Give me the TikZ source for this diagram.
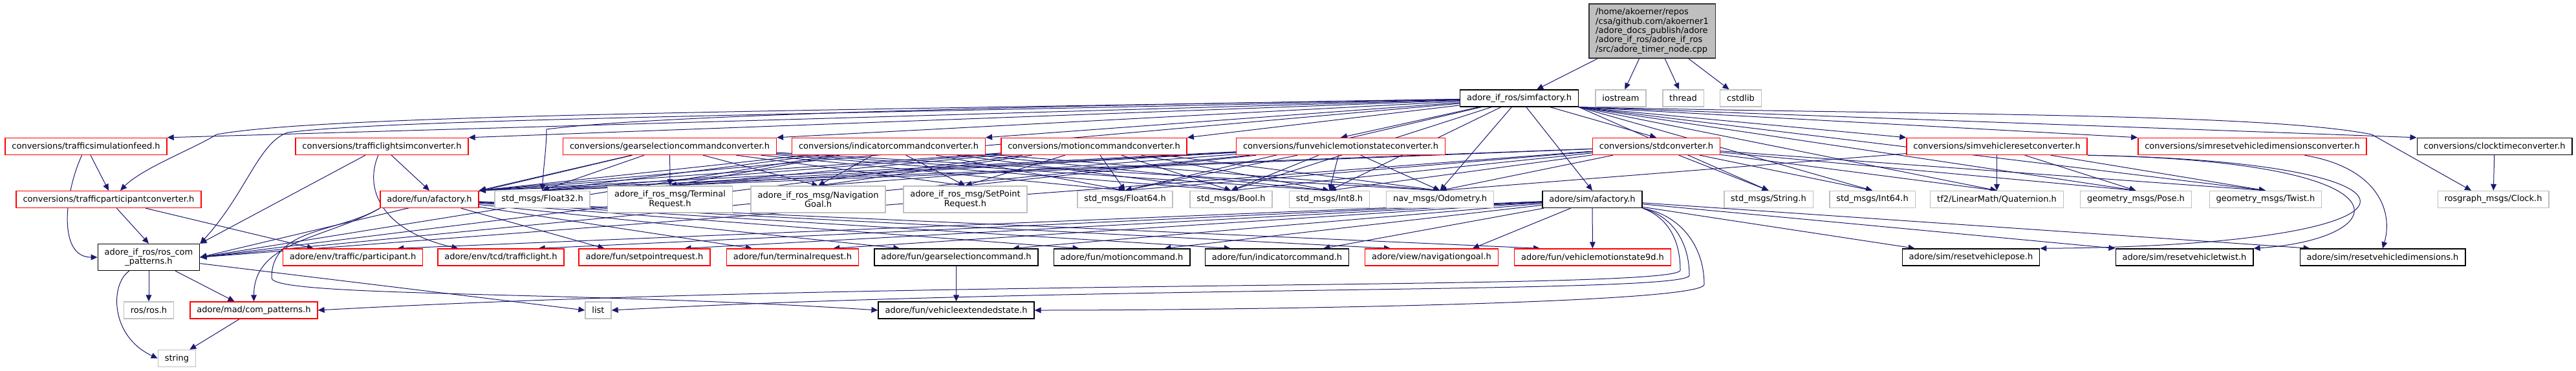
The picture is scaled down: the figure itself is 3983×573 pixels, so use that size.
\documentclass[tikz,border=0pt]{standalone}
\usepackage{fontspec}
\setmainfont{DejaVu Sans}
\usetikzlibrary{arrows.meta, backgrounds}
\definecolor{inclblue}{RGB}{25, 25, 112}
\definecolor{hdrred}{RGB}{255, 0, 0}
\definecolor{sysgray}{RGB}{191, 191, 191}
\definecolor{rootgray}{RGB}{191, 191, 191}
\tikzset{
  file/.style={rectangle, draw=#1, fill=white, line width=0.7pt, inner xsep=5.2pt,
               inner ysep=0pt, minimum height=13pt, align=center,
               font=\fontsize{6.5}{7.2}\selectfont},
  redfile/.style={file=hdrred},
  grayfile/.style={file=sysgray},
  docfile/.style={file=black},
  twoline/.style={minimum height=20.5pt},
  rootfile/.style={file=black!80, fill=rootgray, align=left, minimum height=42pt},
  incl/.style={-{Triangle[length=5pt, width=4.4pt]}, line width=0.5pt, color=inclblue},
}

\begin{document}
\begin{tikzpicture}[x=0.5pt, y=-0.5pt]
  \useasboundingbox (0,0) rectangle (3983,573);

  % top: the cpp file and what it includes directly
  \node[rootfile] (root) at (2554.5,48) {/home/akoerner/repos\\/csa/github.com/akoerner1\\/adore\_docs\_publish/adore\\/adore\_if\_ros/adore\_if\_ros\\/src/adore\_timer\_node.cpp};
  \node[docfile]  (simf) at (2349,152)   {adore\_if\_ros/simfactory.h};
  \node[grayfile] (iost) at (2506,152)   {iostream};
  \node[grayfile] (thrd) at (2602.5,152) {thread};
  \node[grayfile] (cstd) at (2691.5,152) {cstdlib};

  % converters
  \node[redfile] (tsf)   at (133,226.5)    {conversions/trafficsimulationfeed.h};
  \node[redfile] (tlsc)  at (590.5,226.5)  {conversions/trafficlightsimconverter.h};
  \node[redfile] (gscc)  at (1035.5,226.5) {conversions/gearselectioncommandconverter.h};
  \node[redfile] (iccc)  at (1374,226.5)   {conversions/indicatorcommandconverter.h};
  \node[redfile] (mccc)  at (1691.5,226.5) {conversions/motioncommandconverter.h};
  \node[redfile] (fvmsc) at (2073,226.5)   {conversions/funvehiclemotionstateconverter.h};
  \node[redfile] (stdc)  at (2561,226.5)   {conversions/stdconverter.h};
  \node[redfile] (svrc)  at (3087.5,226.5) {conversions/simvehicleresetconverter.h};
  \node[redfile] (srvdc) at (3482.5,226.5) {conversions/simresetvehicledimensionsconverter.h};
  \node[docfile] (cltc)  at (3857,226.5)   {conversions/clocktimeconverter.h};

  % messages and factories
  \node[redfile]           (tpc)   at (168,308.5)    {conversions/trafficparticipantconverter.h};
  \node[redfile]           (funaf) at (664,308.5)    {adore/fun/afactory.h};
  \node[grayfile]          (f32)   at (838.5,308.5)  {std\_msgs/Float32.h};
  \node[grayfile, twoline] (treq)  at (1036,308.5)   {adore\_if\_ros\_msg/Terminal\\Request.h};
  \node[grayfile, twoline] (ngoal) at (1265,308.5)   {adore\_if\_ros\_msg/Navigation\\Goal.h};
  \node[grayfile, twoline] (spreq) at (1492.5,308.5) {adore\_if\_ros\_msg/SetPoint\\Request.h};
  \node[grayfile]          (f64)   at (1739.5,308.5) {std\_msgs/Float64.h};
  \node[grayfile]          (bool)  at (1903.5,308.5) {std\_msgs/Bool.h};
  \node[grayfile]          (int8)  at (2055.5,308.5) {std\_msgs/Int8.h};
  \node[grayfile]          (odom)  at (2226.5,308.5) {nav\_msgs/Odometry.h};
  \node[docfile]           (simaf) at (2462,308.5)   {adore/sim/afactory.h};
  \node[grayfile]          (str)   at (2734.5,308.5) {std\_msgs/String.h};
  \node[grayfile]          (i64)   at (2895,308.5)   {std\_msgs/Int64.h};
  \node[grayfile]          (quat)  at (3087.5,308.5) {tf2/LinearMath/Quaternion.h};
  \node[grayfile]          (pose)  at (3302.5,308.5) {geometry\_msgs/Pose.h};
  \node[grayfile]          (twist) at (3503,308.5)   {geometry\_msgs/Twist.h};
  \node[grayfile]          (clock) at (3855,308.5)   {rosgraph\_msgs/Clock.h};

  % adore types
  \node[docfile, twoline] (rcp)   at (230,398)    {adore\_if\_ros/ros\_com\\\_patterns.h};
  \node[redfile]          (part)  at (545.5,398)  {adore/env/traffic/participant.h};
  \node[redfile]          (tcd)   at (774.5,398)  {adore/env/tcd/trafficlight.h};
  \node[redfile]          (fsp)   at (996.5,398)  {adore/fun/setpointrequest.h};
  \node[redfile]          (fterm) at (1225.5,398) {adore/fun/terminalrequest.h};
  \node[docfile]          (fgear) at (1478.5,398) {adore/fun/gearselectioncommand.h};
  \node[docfile]          (fmot)  at (1734.5,398) {adore/fun/motioncommand.h};
  \node[docfile]          (find)  at (1974.5,398) {adore/fun/indicatorcommand.h};
  \node[redfile]          (vnav)  at (2213.5,398) {adore/view/navigationgoal.h};
  \node[redfile]          (vms9d) at (2462.5,398) {adore/fun/vehiclemotionstate9d.h};
  \node[docfile]          (rvp)   at (3047.5,398) {adore/sim/resetvehiclepose.h};
  \node[docfile]          (rvt)   at (3377.5,398) {adore/sim/resetvehicletwist.h};
  \node[docfile]          (rvd)   at (3684,398)   {adore/sim/resetvehicledimensions.h};

  \node[grayfile] (ros)    at (230,480)    {ros/ros.h};
  \node[redfile]  (mcp)    at (392.5,480)  {adore/mad/com\_patterns.h};
  \node[grayfile] (list)   at (925,480)    {list};
  \node[docfile]  (vext)   at (1478.5,480) {adore/fun/vehicleextendedstate.h};
  \node[grayfile] (string) at (273.5,554.5) {string};

  % bends for the routed edges
  \coordinate (tpcbend) at (335,208);
  \coordinate (rcpbend) at (445,205);
  \coordinate (f32bend) at (845,200);
  \coordinate (clkbend) at (3667,208);
  \coordinate (funbend) at (420,430);
  \coordinate (loopa)   at (2598,418);
  \coordinate (loopb)   at (2612,426);
  \coordinate (loopc)   at (2635,440);

  \begin{scope}[on background layer]
    \foreach \t in {simf,iost,thrd,cstd} \draw[incl] (root) -- (\t);
    % simfactory.h
    \foreach \t in {tsf,tlsc,gscc,iccc,mccc} \draw[incl] (simf) -- (\t.north east);
    \foreach \t in {fvmsc,stdc} \draw[incl] (simf) -- (\t.north);
    \foreach \t in {svrc,srvdc,cltc} \draw[incl] (simf.south east) -- (\t.north west);
    \foreach \t in {simaf,f64,bool,int8,odom} \draw[incl] (simf) -- (\t.north);
    \foreach \t in {str,i64,quat,pose,twist} \draw[incl] (simf.south east) -- (\t.north);
    \draw[incl] (simf) -- (funaf.north east);
    \draw[incl] (simf) .. controls (1200,172) and (500,178) .. (tpcbend)
                       .. controls (300,230) and (220,260) .. ([xshift=9pt]tpc.north);
    \draw[incl] (simf) .. controls (1200,178) and (600,185) .. (rcpbend)
                       .. controls (400,220) and (380,300) .. (rcp.north east);
    \draw[incl] (simf) .. controls (1500,165) and (1000,180) .. (f32bend)
                       .. controls (845,230) and (840,260) .. (f32.north);
    \draw[incl] (simf.south east) .. controls (3000,178) and (3500,175) .. (clkbend)
                -- ([xshift=-17pt]clock.north);
    % converters
    \draw[incl] (tsf) -- (tpc.north);
    \draw[incl] (tsf) to[out=-115, in=180] (rcp.west);
    \draw[incl] (tpc) -- (rcp.north);
    \draw[incl] (tpc) -- ([xshift=24pt]part.north west);
    \draw[incl] (tlsc) -- (funaf.north);
    \draw[incl] (tlsc) -- (rcp.north east);
    \draw[incl] (tlsc) .. controls (560,300) and (600,360) .. ([xshift=16pt]tcd.north west);
    \foreach \s in {gscc,iccc,mccc,fvmsc} {
      \draw[incl] (\s) -- (funaf.north east);
      \draw[incl] (\s) -- (rcp.east);
      \foreach \t in {f32,treq,ngoal,spreq,f64,bool,int8,odom} \draw[incl] (\s) -- (\t.north);
    }
    \draw[incl] (stdc) -- (funaf.north east);
    \draw[incl] (stdc) -- (rcp.east);
    \foreach \t in {f32,f64,bool,int8,odom,str,i64,quat,pose,twist} \draw[incl] (stdc) -- (\t.north);
    \foreach \t in {odom,quat,pose,twist} \draw[incl] (svrc) -- (\t.north);
    \draw[incl] (svrc.south east) .. controls (3800,250) and (3800,380) .. (rvp.north east);
    \draw[incl] (svrc.south east) .. controls (3750,250) and (3700,370) .. (rvt.north east);
    \draw[incl] (srvdc) .. controls (3680,260) and (3700,330) .. (rvd.north);
    \draw[incl] (cltc) -- (clock);
    % factories
    \foreach \t in {fsp,fterm,fgear,fmot,find,vnav,vms9d} \draw[incl] (funaf) -- ([xshift=20pt]\t.north west);
    \draw[incl] (funaf.south west) to[out=-150, in=90] (mcp.north);
    \draw[incl] (funaf.south west) to[out=-150, in=90] (funbend)
                .. controls (420,460) and (900,450) .. (vext.west);
    \foreach \t in {part,tcd,fsp,fterm,fgear,fmot,find,vnav} \draw[incl] (simaf) -- ([xshift=-20pt]\t.north east);
    \draw[incl] (simaf) -- (vms9d);
    \draw[incl] (simaf) -- ([xshift=10pt]rvp.north west);
    \draw[incl] (simaf) -- (rvt.north west);
    \draw[incl] (simaf) -- ([xshift=8pt]rvd.north west);
    \draw[incl] (simaf.south east) to[out=-20, in=90] (loopa)
                .. controls (2598,450) and (1400,430) .. (mcp.east);
    \draw[incl] (simaf.south east) to[out=-15, in=90] (loopb)
                .. controls (2612,455) and (1700,440) .. (list.east);
    \draw[incl] (simaf.south east) to[out=-10, in=90] (loopc)
                .. controls (2635,470) and (1900,480) .. (vext.east);
    % lowest level
    \draw[incl] (rcp) -- (ros);
    \draw[incl] (rcp) -- ([xshift=-15pt]mcp.north);
    \draw[incl] (rcp) -- (list.west);
    \draw[incl] (rcp) .. controls (170,440) and (170,520) .. (string.west);
    \draw[incl] (mcp) -- ([xshift=-5pt]string.north east);
    \draw[incl] (fgear) -- (vext);
  \end{scope}
\end{tikzpicture}
\end{document}
